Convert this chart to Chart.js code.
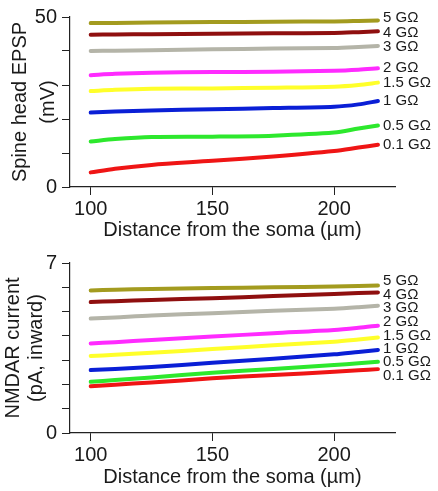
<!DOCTYPE html>
<html lang="en">
<head>
  <meta charset="UTF-8">
  <title>Spine head EPSP and NMDAR current vs distance</title>
  <script src="https://cdn.jsdelivr.net/npm/chart.js"></script>
  <style>
    body { margin: 0; background: #fff; }
    canvas { display: block; }
  </style>
</head>
<body>
<canvas id="epspChart" width="438" height="246"></canvas>
<canvas id="nmdaChart" width="438" height="245"></canvas>
<script>
  // distance from the soma (um), shared by every trace
  const distance = [100, 110, 125, 150, 175, 200, 210, 218];
  const resistance = ['5 GΩ', '4 GΩ', '3 GΩ', '2 GΩ', '1.5 GΩ', '1 GΩ', '0.5 GΩ', '0.1 GΩ'];
  const colors = ['#a39b1f', '#8f0f0f', '#b4b4a8', '#ff2bff', '#ffff2a', '#0a1fd6', '#2de82d', '#ef1515'];

  // spine head EPSP (mV)
  const epsp5 = [48.2, 48.25, 48.35, 48.5, 48.6, 48.7, 48.85, 49.0];
  const epsp4 = [44.8, 44.85, 44.95, 45.1, 45.2, 45.3, 45.55, 45.8];
  const epsp3 = [40.0, 40.1, 40.25, 40.5, 40.7, 40.9, 41.2, 41.5];
  const epsp2 = [32.9, 33.3, 33.6, 33.8, 33.9, 34.2, 34.5, 34.9];
  const epsp15 = [28.2, 28.6, 28.9, 29.0, 29.2, 29.5, 30.0, 30.7];
  const epsp1 = [21.9, 22.2, 22.5, 22.9, 23.2, 23.6, 24.3, 25.3];
  const epsp05 = [13.4, 14.1, 14.7, 14.8, 15.1, 16.0, 17.2, 18.1];
  const epsp01 = [4.3, 5.4, 6.5, 7.7, 9.0, 10.6, 11.6, 12.4];

  // NMDAR current (pA, inward)
  const nmda5 = [5.87, 5.90, 5.93, 5.97, 6.00, 6.03, 6.05, 6.07];
  const nmda4 = [5.39, 5.43, 5.48, 5.55, 5.64, 5.72, 5.76, 5.79];
  const nmda3 = [4.71, 4.76, 4.84, 4.93, 5.03, 5.12, 5.18, 5.24];
  const nmda2 = [3.69, 3.74, 3.83, 3.97, 4.11, 4.24, 4.33, 4.42];
  const nmda15 = [3.17, 3.22, 3.30, 3.46, 3.61, 3.76, 3.85, 3.93];
  const nmda1 = [2.59, 2.64, 2.72, 2.89, 3.06, 3.24, 3.34, 3.42];
  const nmda05 = [2.11, 2.18, 2.29, 2.48, 2.64, 2.80, 2.87, 2.93];
  const nmda01 = [1.93, 1.99, 2.08, 2.25, 2.39, 2.52, 2.58, 2.63];

  const xTicks = [100, 150, 200];
  const FONT = 'Arial, "Liberation Sans", sans-serif';

  // draws the "x GΩ" labels at the right end of each trace, pushed apart so they don't overlap
  const endLabels = {
    id: 'endLabels',
    afterDatasetsDraw(chart, args, opts) {
      const ctx = chart.ctx;
      const items = chart.data.datasets.map((ds, i) => {
        const pts = chart.getDatasetMeta(i).data;
        const last = pts[pts.length - 1];
        return { text: ds.label, x: last.x + 5, y: last.y };
      }).sort((a, b) => a.y - b.y);
      const gap = opts.gap || 13.5;
      for (let k = 0; k < 50; k++) {
        for (let i = 1; i < items.length; i++) {
          const d = items[i].y - items[i - 1].y;
          if (d < gap) {
            const s = (gap - d) / 2;
            items[i].y += s;
            items[i - 1].y -= s;
          }
        }
      }
      ctx.save();
      ctx.font = '15px ' + FONT;
      ctx.fillStyle = '#1a1a1a';
      ctx.textAlign = 'left';
      ctx.textBaseline = 'middle';
      items.forEach(it => ctx.fillText(it.text, it.x, it.y));
      ctx.restore();
    }
  };

  function makeChart(id, series, yMax, yTitle, titlePad, titleLine, canvasH, labelGap) {
    const ctx = document.getElementById(id).getContext('2d');
    return new Chart(ctx, {
      type: 'line',
      data: {
        datasets: series.map((vals, i) => ({
          label: resistance[i],
          data: distance.map((d, j) => ({ x: d, y: vals[j] })),
          borderColor: colors[i],
          borderWidth: 4,
          borderCapStyle: 'round',
          pointRadius: 0,
          tension: 0.3,
          fill: false
        }))
      },
      options: {
        responsive: false,
        animation: false,
        layout: { padding: { top: 17, right: 43, bottom: 0, left: 0 } },
        plugins: {
          legend: { display: false },
          tooltip: { enabled: false },
          endLabels: { gap: labelGap }
        },
        scales: {
          x: {
            type: 'linear',
            min: 91.5,
            max: 225,
            afterBuildTicks: s => { s.ticks = xTicks.map(v => ({ value: v })); },
            afterFit: s => { s.height = canvasH - 187; },
            grid: { drawOnChartArea: false, tickLength: 8, color: '#222', lineWidth: 1 },
            border: { color: '#222', width: 1.2 },
            ticks: { padding: 2, autoSkip: false, maxRotation: 0, color: '#1a1a1a', font: { size: 20, family: FONT } },
            title: {
              display: true,
              text: 'Distance from the soma (µm)',
              color: '#1a1a1a',
              font: { size: 20, family: FONT },
              padding: { top: 0, bottom: canvasH === 246 ? 4 : 2 }
            }
          },
          y: {
            min: 0,
            max: yMax,
            afterFit: s => { s.width = 70; },
            grid: { drawOnChartArea: false, tickLength: 8, color: '#222', lineWidth: 1 },
            border: { color: '#222', width: 1.2 },
            ticks: {
              stepSize: yMax === 50 ? 10 : 1,
              autoSkip: false,
              padding: 5,
              color: '#1a1a1a',
              font: { size: 20, family: FONT },
              callback: v => (v === 0 || v === yMax) ? v : ''
            },
            title: {
              display: true,
              text: yTitle,
              color: '#1a1a1a',
              font: { size: 20, family: FONT, lineHeight: titleLine },
              padding: { top: titlePad, bottom: 0 }
            }
          }
        }
      },
      plugins: [endLabels]
    });
  }

  makeChart('epspChart',
    [epsp5, epsp4, epsp3, epsp2, epsp15, epsp1, epsp05, epsp01],
    50, ['Spine head EPSP', '(mV)'], 6.5, 1.4, 246, 14.5);

  makeChart('nmdaChart',
    [nmda5, nmda4, nmda3, nmda2, nmda15, nmda1, nmda05, nmda01],
    7, ['NMDAR current', '(pA, inward)'], 1.5, 1.15, 245, 13.3);
</script>
</body>
</html>
